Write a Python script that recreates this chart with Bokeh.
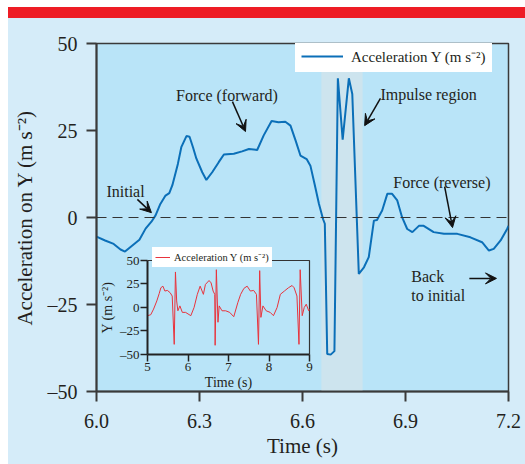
from bokeh.plotting import figure
from bokeh.models import (Range1d, FixedTicker, NumeralTickFormatter, BoxAnnotation, Span,
                          Arrow, VeeHead, Label, Legend, LegendItem, LinearAxis, InlineStyleSheet)
from bokeh.embed import file_html
from bokeh.resources import INLINE

# ---------------- data ----------------
time_s = [6.000, 6.025, 6.050, 6.070, 6.083, 6.100, 6.125, 6.143, 6.160, 6.172, 6.186, 6.201,
          6.212, 6.221, 6.237, 6.247, 6.262, 6.271, 6.281, 6.291, 6.308, 6.320, 6.337, 6.356,
          6.371, 6.400, 6.424, 6.444, 6.468, 6.487, 6.510, 6.530, 6.550, 6.565, 6.580, 6.594,
          6.612, 6.623, 6.635, 6.648, 6.660, 6.665, 6.672, 6.682, 6.693, 6.703, 6.717, 6.735,
          6.745, 6.764, 6.779, 6.793, 6.808, 6.817, 6.832, 6.847, 6.861, 6.876, 6.890, 6.905,
          6.920, 6.939, 6.953, 6.982, 7.012, 7.051, 7.089, 7.123, 7.143, 7.157, 7.177, 7.196, 7.200]
accel_y = [-5.5, -6.6, -7.6, -9.2, -9.8, -8.4, -6.4, -3.2, -1.2, 0.6, 3.9, 6.3,
           7.0, 9.3, 15.4, 20.2, 23.4, 23.2, 20.2, 16.9, 13.0, 10.8, 13.0, 15.9,
           18.1, 18.3, 19.0, 19.7, 19.4, 23.6, 27.7, 27.4, 27.5, 26.4, 22.1, 17.8,
           16.8, 14.9, 9.7, 3.9, -0.5, -1.8, -39.2, -39.4, -38.4, 40.0, 22.4, 40.0,
           35.5, -16.2, -14.3, -11.4, -0.9, -0.7, 2.0, 6.8, 6.8, 4.9, 0.1, -3.3,
           -4.2, -2.4, -2.4, -4.2, -4.7, -4.7, -5.7, -7.1, -9.5, -9.0, -6.6, -3.3, -2.4]

inset_time = [5.00, 5.08, 5.15, 5.23, 5.29, 5.33, 5.38, 5.43, 5.49, 5.56, 5.61, 5.66, 5.69,
              5.72, 5.75, 5.80, 5.86, 5.94, 6.07, 6.15, 6.23, 6.30, 6.38, 6.43, 6.52, 6.57,
              6.62, 6.66, 6.67, 6.70, 6.74, 6.77, 6.84, 6.93, 7.03, 7.13, 7.23, 7.30, 7.38,
              7.46, 7.54, 7.62, 7.69, 7.74, 7.77, 7.80, 7.85, 7.93, 8.03, 8.11, 8.20, 8.28,
              8.38, 8.48, 8.57, 8.62, 8.69, 8.74, 8.77, 8.82, 8.87, 8.92, 8.98, 9.00]
inset_accel = [-8.7, -7.7, -1.7, 7.0, 15.0, 21.0, 22.7, 17.5, 18.2, 15.7, 12.2, -39.2, 37.8,
               7.0, -3.5, 1.7, -5.2, -5.2, -8.7, 0.0, 14.0, 22.7, 14.0, 24.5, 28.7, 26.2,
               17.5, 14.0, -40.2, 40.2, -15.7, 1.7, -3.5, -3.5, -5.2, -9.8, 5.2, 14.0, 20.3,
               22.7, 17.5, 18.2, 14.0, -39.2, 39.2, -10.5, 1.7, -3.5, -5.2, -8.7, 0.0, 14.0,
               17.5, 21.0, 23.4, 21.0, 12.2, -39.2, 40.2, -8.7, 0.0, 3.5, -3.5, -2.0]

x_ticks = [6.0, 6.3, 6.6, 6.9, 7.2]
y_ticks = [-50, -25, 0, 25, 50]
y_tick_labels = ["\u201350", "\u201325", "0", "25", "50"]
inset_x_ticks = [5, 6, 7, 8, 9]
impulse_start, impulse_end = 6.655, 6.775

FONT = "Liberation Serif"
TEXT = "#231f20"
AXIS = "#3a3a3a"
W, H = 525, 464

# ---------------- main figure ----------------
p = figure(width=W, height=H, x_range=Range1d(6.0, 7.2), y_range=Range1d(-50, 50),
           output_backend="svg", toolbar_location=None,
           min_border_left=96, min_border_right=17, min_border_top=43, min_border_bottom=73)
p.background_fill_color = "#b9e4f8"
p.border_fill_color = "#d5ecf9"
p.outline_line_color = AXIS
p.outline_line_width = 1.5
p.grid.visible = False

# page decoration: white page margin on the left/top and the red band across the top
p.stylesheets = [InlineStyleSheet(css="""
:host { position: relative; }
:host::before {
  content: ""; position: absolute; left: 8px; top: 0px; width: 517px; height: 18px;
  box-sizing: border-box; border-top: 7px solid #ffffff; background: #ee1c25;
  z-index: 10; pointer-events: none;
}
:host::after {
  content: ""; position: absolute; left: 0px; top: 0px; width: 8px; height: 464px;
  background: #ffffff; z-index: 10; pointer-events: none;
}
""")]

p.xaxis.ticker = FixedTicker(ticks=x_ticks)
p.xaxis.formatter = NumeralTickFormatter(format="0.0")
p.yaxis.ticker = FixedTicker(ticks=y_ticks)
p.yaxis.major_label_overrides = {t: s for t, s in zip(y_ticks, y_tick_labels)}
p.xaxis.axis_label = "Time (s)"
p.yaxis.axis_label = "Acceleration on Y (m s\u207b\u00b2)"
for ax in (p.xaxis[0], p.yaxis[0]):
    ax.axis_line_color = AXIS
    ax.axis_line_width = 2
    ax.major_tick_line_color = AXIS
    ax.major_tick_line_width = 2
    ax.major_tick_out = 10
    ax.major_tick_in = 0
    ax.minor_tick_out = 0
    ax.minor_tick_in = 0
    ax.major_label_text_font = FONT
    ax.major_label_text_font_size = "20px"
    ax.major_label_text_color = TEXT
    ax.axis_label_text_font = FONT
    ax.axis_label_text_font_size = "21px"
    ax.axis_label_text_font_style = "normal"
    ax.axis_label_text_color = TEXT
p.xaxis.major_label_standoff = 12
p.xaxis.axis_label_standoff = 3
p.yaxis.major_label_standoff = 9
p.yaxis.axis_label_standoff = 8

p.add_layout(BoxAnnotation(left=impulse_start, right=impulse_end, fill_color="#cde4ee",
                           fill_alpha=1, line_alpha=0, level="underlay"))
p.add_layout(Span(location=0, dimension="width", line_color="#333333", line_width=1.2,
                  line_dash="10 6"))

r_main = p.line(time_s, accel_y, line_color="#0b6fb8", line_width=2)

p.add_layout(Legend(items=[LegendItem(label="Acceleration Y (m s\u207b\u00b2)", renderers=[r_main])],
                    location=(199, 319), padding=6, margin=0, spacing=0,
                    glyph_width=42, glyph_height=14, label_height=14, label_standoff=8,
                    label_text_font=FONT, label_text_font_size="15px", label_text_color=TEXT,
                    border_line_alpha=0, background_fill_color="white", background_fill_alpha=1))

def note(x, y, text, align="left"):
    p.add_layout(Label(x=x, y=y, text=text, text_align=align, text_baseline="alphabetic",
                       text_font=FONT, text_font_size="16px", text_color=TEXT))

def arrow(x0, y0, x1, y1):
    p.add_layout(Arrow(end=VeeHead(size=11, fill_color="#111111", line_color="#111111"),
                       x_start=x0, y_start=y0, x_end=x1, y_end=y1,
                       line_color="#111111", line_width=1.5))

note(6.380, 35.2, "Force (forward)", "center")
arrow(6.396, 33.3, 6.434, 24.7)
note(6.029, 7.6, "Initial")
arrow(6.119, 5.2, 6.160, 1.4)
note(6.827, 35.3, "Impulse region")
arrow(6.827, 34.2, 6.781, 26.4)
note(7.006, 10.1, "Force (reverse)", "center")
arrow(7.014, 8.9, 7.037, -2.9)
note(6.917, -17.0, "Back")
note(6.917, -22.4, "to initial")
arrow(7.086, -17.5, 7.165, -17.5)

# ---------------- inset (drawn on extra ranges of the same figure) ----------------
p.extra_x_ranges = {"ix": Range1d(3.7407, 13.9136)}
p.extra_y_ranges = {"iy": Range1d(-89.362, 280.851)}

IN_AX = "#222222"
ix_axis = LinearAxis(x_range_name="ix", y_range_name="iy", fixed_location=-50, bounds=(5, 9),
                     ticker=FixedTicker(ticks=inset_x_ticks), axis_label="Time (s)")
iy_axis = LinearAxis(x_range_name="ix", y_range_name="iy", fixed_location=5, bounds=(-50, 50),
                     ticker=FixedTicker(ticks=y_ticks), axis_label="Y (m s\u207b\u00b2)",
                     major_label_overrides={t: s for t, s in zip(y_ticks, y_tick_labels)})
for ax in (ix_axis, iy_axis):
    ax.axis_line_color = IN_AX
    ax.axis_line_width = 2
    ax.major_tick_line_color = IN_AX
    ax.major_tick_line_width = 1.5
    ax.major_tick_out = 7
    ax.major_tick_in = 0
    ax.minor_tick_out = 0
    ax.minor_tick_in = 0
    ax.major_label_text_font = FONT
    ax.major_label_text_font_size = "13px"
    ax.major_label_text_color = TEXT
    ax.axis_label_text_font = FONT
    ax.axis_label_text_font_size = "14px"
    ax.axis_label_text_font_style = "normal"
    ax.axis_label_text_color = TEXT
ix_axis.major_label_standoff = 2
ix_axis.axis_label_standoff = 0
iy_axis.major_label_standoff = 1
iy_axis.axis_label_standoff = 2
p.add_layout(ix_axis, "below")
p.add_layout(iy_axis, "left")

# inset frame top/right border
p.line([inset_x_ticks[0], inset_x_ticks[-1], inset_x_ticks[-1]],
       [y_ticks[-1], y_ticks[-1], y_ticks[0]],
       x_range_name="ix", y_range_name="iy", line_color="#333333", line_width=1.2)

r_inset = p.line(inset_time, inset_accel, x_range_name="ix", y_range_name="iy",
                 line_color="#e8333c", line_width=1)
p.add_layout(Legend(items=[LegendItem(label="Acceleration Y (m s\u207b\u00b2)", renderers=[r_inset])],
                    location=(56, 124), padding=3, margin=0, spacing=0,
                    glyph_width=15, glyph_height=12, label_height=12, label_standoff=4,
                    label_text_font=FONT, label_text_font_size="10.5px", label_text_color=TEXT,
                    border_line_alpha=0, background_fill_color="white", background_fill_alpha=1))

open("out.html", "w").write(file_html(p, INLINE))
